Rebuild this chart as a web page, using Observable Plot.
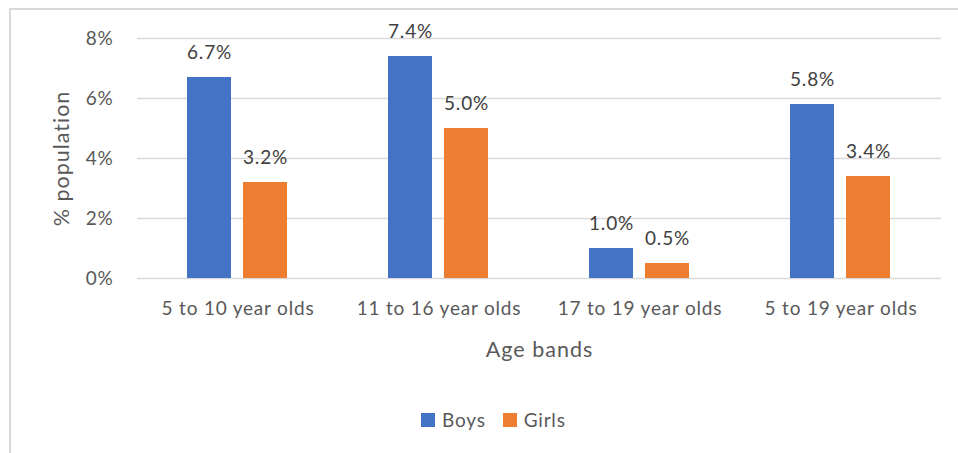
<!DOCTYPE html>
<html>
<head>
<meta charset="utf-8">
<script src="https://cdn.jsdelivr.net/npm/d3@7"></script>
<script src="https://cdn.jsdelivr.net/npm/@observablehq/plot@0.6"></script>
<style>
  html, body { margin: 0; padding: 0; background: #fff; overflow: hidden; }
  #wrap { position: relative; width: 958px; height: 453px; font-family: Lato, "Open Sans", sans-serif; }
  #frame { position: absolute; left: 9px; top: 8px; width: 1200px; height: 1200px; border: 2px solid #d9d9d9; box-sizing: border-box; }
  #chart { position: absolute; left: 0; top: 0; }
  #chart svg text { letter-spacing: 0.8px; }
  #chart svg g[aria-label="y-axis label"] text,
  #chart svg g[aria-label="fx-axis label"] text { font-size: 21.5px; letter-spacing: 1px; }
  #legend { position: absolute; left: 421px; top: 408px; display: flex; align-items: center; font-size: 19px; letter-spacing: 0.8px; color: #595959; }
  .item { display: flex; align-items: center; margin-right: 17px; }
  .sw { width: 14px; height: 14px; margin-right: 7px; }
</style>
</head>
<body>
<div id="wrap">
  <div id="frame"></div>
  <div id="chart"></div>
  <div id="legend"></div>
</div>
<script>
const categories = ["5 to 10 year olds", "11 to 16 year olds", "17 to 19 year olds", "5 to 19 year olds"];
const series = ["Boys", "Girls"];
const colors = ["#4472C4", "#ED7D31"];
const boys = [6.7, 7.4, 1.0, 5.8];
const girls = [3.2, 5.0, 0.5, 3.4];
const yTicks = [0, 2, 4, 6, 8];

const data = [];
categories.forEach((c, i) => {
  data.push({cat: c, series: "Boys", value: boys[i]});
  data.push({cat: c, series: "Girls", value: girls[i]});
});

const chart = Plot.plot({
  width: 958,
  height: 400,
  marginLeft: 136,
  marginRight: 17,
  marginTop: 38,
  marginBottom: 122,
  style: {fontFamily: "Lato, 'Open Sans', sans-serif", fontSize: "19px", color: "#595959", background: "transparent", overflow: "visible"},
  fx: {domain: categories, padding: 0},
  x: {domain: series, paddingInner: 0.21, paddingOuter: 0.87, axis: null},
  y: {domain: [0, 8]},
  color: {domain: series, range: colors},
  marks: [
    Plot.gridY(yTicks, {stroke: "#d9d9d9", strokeOpacity: 1, strokeWidth: 1.5}),
    Plot.axisY(yTicks, {tickSize: 0, tickPadding: 24, tickFormat: d => d + "%", label: "% population", labelAnchor: "center", labelArrow: "none", labelOffset: 84, fontSize: 19}),
    Plot.axisFx({anchor: "bottom", tickSize: 0, tickPadding: 23, label: "Age bands", labelAnchor: "center", labelArrow: "none", labelOffset: 78, fontSize: 19}),
    Plot.barY(data, {fx: "cat", x: "series", y: "value", fill: "series"}),
    Plot.text(data, {fx: "cat", x: "series", y: "value", text: d => d.value.toFixed(1) + "%", dy: -25, fontSize: 19, fill: "#404040"})
  ]
});
document.getElementById("chart").appendChild(chart);

const legend = document.getElementById("legend");
series.forEach((s, i) => {
  const item = document.createElement("div");
  item.className = "item";
  const sw = document.createElement("div");
  sw.className = "sw";
  sw.style.background = colors[i];
  const t = document.createElement("span");
  t.textContent = s;
  item.appendChild(sw);
  item.appendChild(t);
  legend.appendChild(item);
});
</script>
</body>
</html>
